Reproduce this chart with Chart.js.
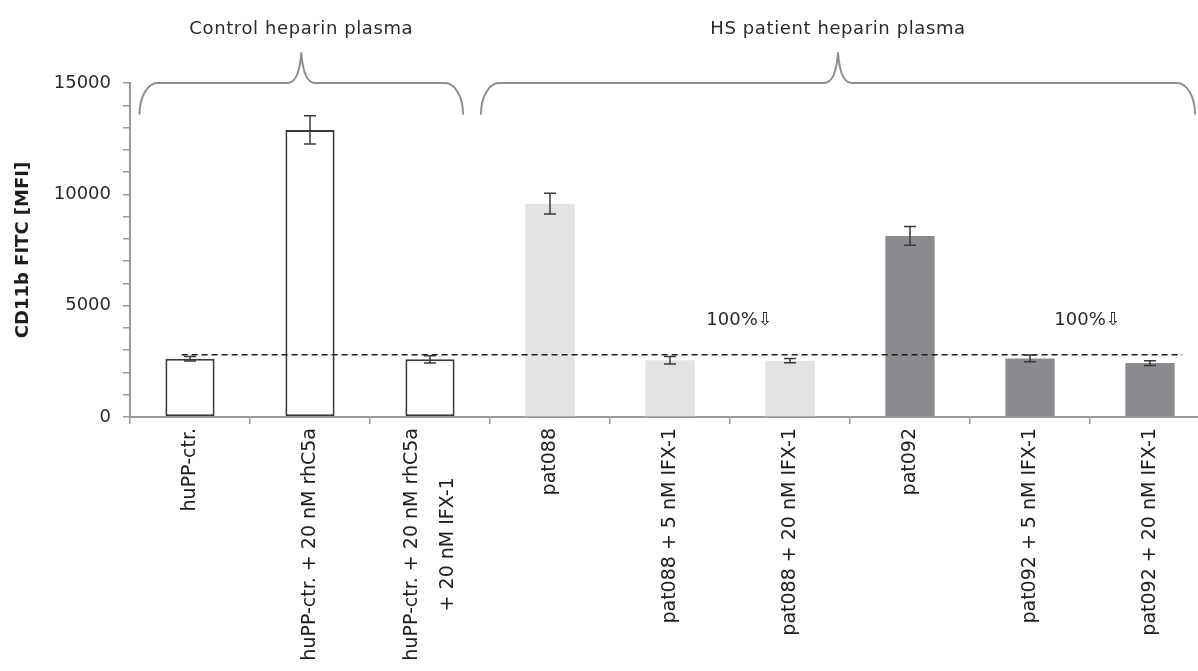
<!DOCTYPE html>
<html>
<head>
<meta charset="utf-8">
<script src="https://cdn.jsdelivr.net/npm/chart.js@4.4.1/dist/chart.umd.min.js"></script>
<style>
  html, body { margin: 0; padding: 0; background: #ffffff; overflow: hidden; }
  #wrap { position: relative; width: 1212px; height: 671px; }
</style>
</head>
<body>
<div id="wrap"><canvas id="chart"></canvas></div>
<script>
// Samples on the category axis
const categories = [
  'huPP-ctr.',
  'huPP-ctr. + 20 nM rhC5a',
  ['huPP-ctr. + 20 nM rhC5a', '+ 20 nM IFX-1'],
  'pat088',
  'pat088 + 5 nM IFX-1',
  'pat088 + 20 nM IFX-1',
  'pat092',
  'pat092 + 5 nM IFX-1',
  'pat092 + 20 nM IFX-1'
];
// Mean CD11b FITC signal (MFI) and its error
const meanMFI = [2620, 12890, 2590, 9580, 2550, 2530, 8130, 2630, 2420];
const errorMFI = [100, 635, 160, 465, 170, 95, 420, 150, 110];
// Which plasma each sample belongs to
const sampleGroup = ['ctrl', 'ctrl', 'ctrl', 'p088', 'p088', 'p088', 'p092', 'p092', 'p092'];
// Baseline level of untreated control plasma
const baselineMFI = 2800;
// Group captions shown above the braces
const groupTitles = ['Control heparin plasma', 'HS patient heparin plasma'];
const noteText = '100%\u21e9';

const FONT = '"DejaVu Sans", "Noto Sans", sans-serif';
const groupFill = { ctrl: '#ffffff', p088: '#e2e3e5', p092: '#8a8b8f' };
const groupEdge = { ctrl: '#3a3a3a', p088: '#e2e3e5', p092: '#8a8b8f' };

const overlay = {
  id: 'overlay',
  beforeDraw(chart) {
    // centre the two-line label on its category and centre its lines on each other
    const xs = chart.scales.x;
    const items = xs.getLabelItems();
    items.forEach((it) => {
      if (Array.isArray(it.label) && it.label.length > 1 && !it._centred) {
        const ctx = chart.ctx;
        ctx.save();
        ctx.font = it.font.string;
        const w = ctx.measureText(it.label[0]).width;
        ctx.restore();
        it.options.translation[0] -= it.font.lineHeight / 2;
        it.options.translation[1] += w / 2;
        it.options.textAlign = 'center';
        it._centred = true;
      }
    });
  },
  afterDatasetsDraw(chart) {
    const ctx = chart.ctx;
    const x = chart.scales.x, y = chart.scales.y;

    // dashed baseline
    ctx.save();
    ctx.strokeStyle = '#1e1e1e';
    ctx.lineWidth = 1.5;
    ctx.setLineDash([6, 4]);
    const yb = y.getPixelForValue(baselineMFI);
    ctx.beginPath();
    ctx.moveTo(x.getPixelForValue(-0.07), yb);
    ctx.lineTo(x.getPixelForValue(8.27), yb);
    ctx.stroke();
    ctx.restore();

    // error bars
    const meta = chart.getDatasetMeta(0);
    ctx.save();
    ctx.strokeStyle = '#3a3a3a';
    ctx.lineWidth = 1.5;
    meta.data.forEach((bar, i) => {
      const cx = bar.x;
      const hi = y.getPixelForValue(meanMFI[i] + errorMFI[i]);
      const lo = y.getPixelForValue(meanMFI[i] - errorMFI[i]);
      ctx.beginPath();
      ctx.moveTo(cx, hi); ctx.lineTo(cx, lo);
      ctx.moveTo(cx - 6, hi); ctx.lineTo(cx + 6, hi);
      ctx.moveTo(cx - 6, lo); ctx.lineTo(cx + 6, lo);
      ctx.stroke();
    });
    ctx.restore();

    // reduction notes
    ctx.save();
    ctx.fillStyle = '#2a2a2a';
    ctx.font = '18px ' + FONT;
    ctx.textAlign = 'center';
    ctx.textBaseline = 'middle';
    [4.58, 7.48].forEach((pos) => {
      ctx.fillText(noteText, x.getPixelForValue(pos), y.getPixelForValue(4350));
    });
    ctx.restore();
  },
  afterDraw(chart) {
    const ctx = chart.ctx;
    const x = chart.scales.x, y = chart.scales.y;
    const spans = [[-0.42, 2.275], [2.425, 8.375]];
    const yBase = y.getPixelForValue(15000);
    const yEnd = y.getPixelForValue(13620);
    const yTip = y.getPixelForValue(16380);
    const yTitle = y.getPixelForValue(17400);

    ctx.save();
    ctx.strokeStyle = '#8e8e8e';
    ctx.lineWidth = 2;
    ctx.lineCap = 'round';
    spans.forEach(([a, b], g) => {
      const xL = x.getPixelForValue(a), xR = x.getPixelForValue(b);
      const xm = (xL + xR) / 2;
      const rx = 18, tw = 14, ry = yEnd - yBase;
      ctx.beginPath();
      ctx.moveTo(xL, yEnd);
      ctx.bezierCurveTo(xL, yBase + ry * 0.45, xL + rx * 0.45, yBase, xL + rx, yBase);
      ctx.lineTo(xm - tw, yBase);
      ctx.quadraticCurveTo(xm - 2, yBase, xm, yTip);
      ctx.quadraticCurveTo(xm + 2, yBase, xm + tw, yBase);
      ctx.lineTo(xR - rx, yBase);
      ctx.bezierCurveTo(xR - rx * 0.45, yBase, xR, yBase + ry * 0.45, xR, yEnd);
      ctx.stroke();

      ctx.save();
      ctx.fillStyle = '#2a2a2a';
      ctx.font = '18px ' + FONT;
      ctx.letterSpacing = '0.6px';
      ctx.textAlign = 'center';
      ctx.textBaseline = 'middle';
      ctx.fillText(groupTitles[g], xm, yTitle);
      ctx.restore();
    });
    ctx.restore();
  }
};

new Chart(document.getElementById('chart'), {
  type: 'bar',
  data: {
    labels: categories,
    datasets: [{
      data: meanMFI,
      backgroundColor: sampleGroup.map((g) => groupFill[g]),
      borderColor: sampleGroup.map((g) => groupEdge[g]),
      borderWidth: sampleGroup.map((g) => (g === 'ctrl' ? 2 : 0)),
      borderSkipped: false,
      categoryPercentage: 1,
      barPercentage: 0.41
    }]
  },
  options: {
    animation: false,
    responsive: true,
    maintainAspectRatio: false,
    layout: { padding: { top: 83, right: 2, left: 0, bottom: 0 } },
    plugins: { legend: { display: false }, tooltip: { enabled: false } },
    scales: {
      x: {
        offset: true,
        grid: { display: true, offset: true, drawOnChartArea: false, drawTicks: true, tickLength: 7, color: '#9a9a9a', lineWidth: 1.5 },
        border: { display: true, color: '#9a9a9a', width: 2 },
        ticks: {
          autoSkip: false,
          minRotation: 90,
          maxRotation: 90,
          padding: 4,
          color: '#1e1e1e',
          font: (c) => ({ family: FONT, size: 19, lineHeight: c.index === 2 ? 1.9 : 1.2 })
        },
        afterFit: (s) => { s.height = 254; }
      },
      y: {
        min: 0,
        max: 15000,
        grid: { display: true, drawOnChartArea: false, drawTicks: true, tickLength: 7, color: '#9a9a9a', lineWidth: 1.5 },
        border: { display: true, color: '#9a9a9a', width: 2 },
        ticks: {
          autoSkip: false,
          stepSize: 1000,
          padding: 12,
          color: '#2a2a2a',
          font: { family: FONT, size: 18 },
          callback: (v) => (v % 5000 === 0 ? String(v) : '')
        },
        title: {
          display: true,
          text: 'CD11b FITC [MFI]',
          color: '#1e1e1e',
          font: { family: FONT, size: 18, weight: 'bold' },
          padding: { top: 13, bottom: 0 }
        },
        afterFit: (s) => { s.width = 130; }
      }
    }
  },
  plugins: [overlay]
});
</script>
</body>
</html>
